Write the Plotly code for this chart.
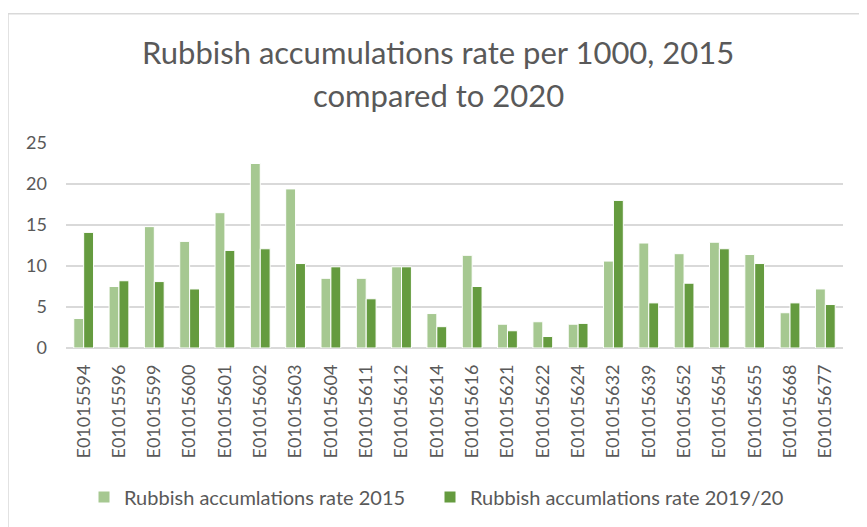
import plotly.graph_objects as go

categories = ["E01015594", "E01015596", "E01015599", "E01015600", "E01015601",
              "E01015602", "E01015603", "E01015604", "E01015611", "E01015612",
              "E01015614", "E01015616", "E01015621", "E01015622", "E01015624",
              "E01015632", "E01015639", "E01015652", "E01015654", "E01015655",
              "E01015668", "E01015677"]
rate_2015 = [3.6, 7.5, 14.8, 13.0, 16.5, 22.5, 19.4, 8.5, 8.5, 9.9, 4.2,
             11.3, 2.9, 3.2, 2.9, 10.6, 12.8, 11.5, 12.9, 11.4, 4.3, 7.2]
rate_2019 = [14.1, 8.2, 8.1, 7.2, 11.9, 12.1, 10.3, 9.9, 6.0, 9.9, 2.6,
             7.5, 2.1, 1.4, 3.0, 18.0, 5.5, 7.9, 12.1, 10.3, 5.5, 5.3]
y_ticks = [0, 5, 10, 15, 20, 25]
series_names = ["Rubbish accumlations rate 2015", "Rubbish accumlations rate 2019/20"]
title_lines = ["Rubbish accumulations rate per 1000, 2015", "compared to 2020"]

OFF = 8  # page offset of the figure
W, H = 867 - OFF, 527 - OFF
# target plot area in window pixels: x 66..843, y 143..349
ML = 66 - OFF
MT = 143 - OFF
MR = W - (843 - OFF)
MB = H - (349 - OFF)
pw = W - ML - MR
ph = H - MT - MB

def px_x(x):
    return (x - OFF - ML) / pw

def px_y(y):
    return (H - MB - (y - OFF)) / ph

FONT = "Lato, 'Open Sans', sans-serif"
GRAY = "#595959"
LIGHT = "#A6C891"
DARK = "#659B3F"

fig = go.Figure()
fig.add_trace(go.Bar(x=categories, y=rate_2015, name=series_names[0], legend="legend",
                     marker=dict(color=LIGHT, line=dict(color="white", width=1))))
fig.add_trace(go.Bar(x=categories, y=rate_2019, name=series_names[1], legend="legend2",
                     marker=dict(color=DARK, line=dict(color="white", width=1))))

leg_common = dict(orientation="h", yanchor="middle", xanchor="left",
                  font=dict(size=20, color=GRAY), itemwidth=30,
                  bgcolor="rgba(0,0,0,0)")

fig.update_layout(
    width=W, height=H,
    margin=dict(l=ML, r=MR, t=MT, b=MB, pad=0),
    paper_bgcolor="white", plot_bgcolor="white",
    barmode="group", bargap=0.44, bargroupgap=0.0,
    font=dict(family=FONT, color=GRAY),
    showlegend=True,
    legend=dict(x=px_x(84), y=px_y(497), **leg_common),
    legend2=dict(x=px_x(430), y=px_y(497), **leg_common),
    xaxis=dict(tickangle=-90, tickfont=dict(size=18, color=GRAY), showgrid=False,
               showline=False, ticks="", ticklabelstandoff=12),
    yaxis=dict(range=[0, 25], tickvals=y_ticks, tickfont=dict(size=18, color=GRAY),
               showgrid=True, gridcolor="#D9D9D9", gridwidth=1.5,
               zeroline=True, zerolinecolor="#D9D9D9", zerolinewidth=1.5,
               showline=False, ticks="", ticklabelstandoff=18),
)

fig.add_annotation(text=title_lines[0], xref="paper", yref="paper",
                   x=px_x(438), y=px_y(52), xanchor="center", yanchor="middle",
                   showarrow=False, font=dict(size=31, color=GRAY, family=FONT))
fig.add_annotation(text=title_lines[1], xref="paper", yref="paper",
                   x=px_x(438), y=px_y(95), xanchor="center", yanchor="middle",
                   showarrow=False, font=dict(size=31, color=GRAY, family=FONT))

fig.add_shape(type="rect", xref="paper", yref="paper",
              x0=px_x(8), x1=px_x(880), y0=px_y(545), y1=px_y(13),
              line=dict(color="#D9D9D9", width=1.5), layer="below")

fig.write_html("out.html")
